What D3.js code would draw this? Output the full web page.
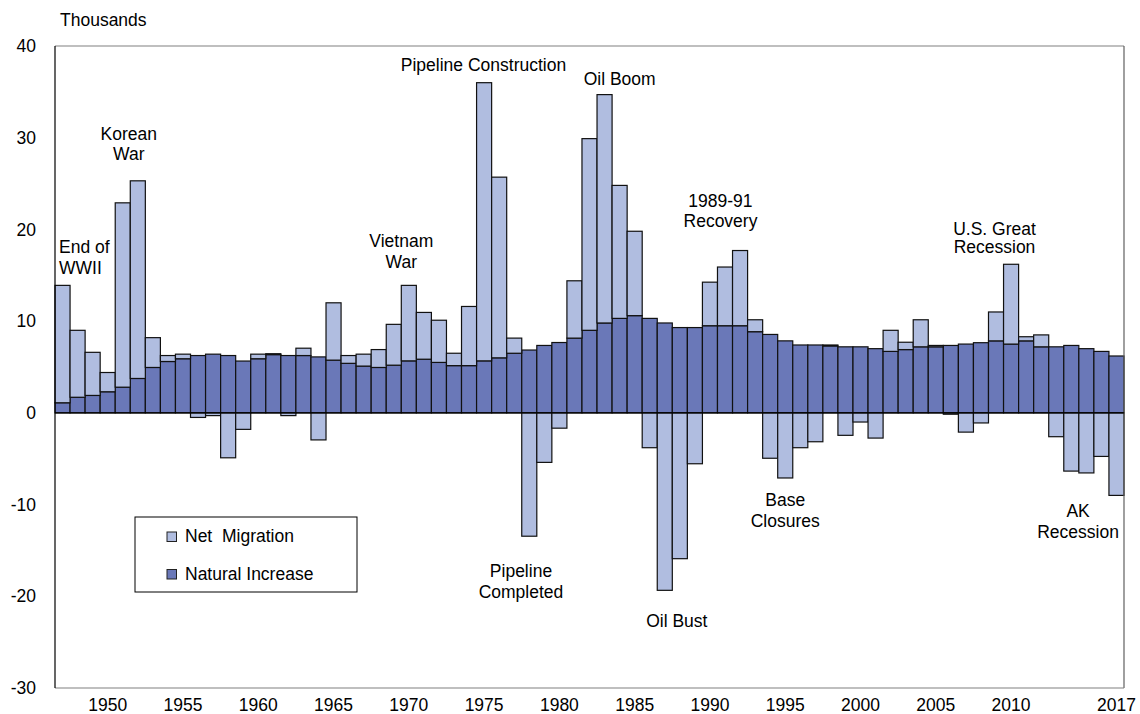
<!DOCTYPE html>
<html>
<head>
<meta charset="utf-8">
<script src="https://cdn.jsdelivr.net/npm/d3@7"></script>
<style>
  body { margin: 0; background: #fff; }
  svg text { font-family: "Liberation Sans", Arial, sans-serif; font-size: 17.5px; fill: #000; }
</style>
</head>
<body>
<div id="chart"></div>
<script>
/**** DATA *****/
const years = d3.range(1947, 2018);
// thousands of people, by year
const naturalIncrease = [
  1.1, 1.7, 1.9, 2.3, 2.8, 3.75, 4.95, 5.6, 5.9, 6.25,
  6.4, 6.25, 5.65, 5.9, 6.35, 6.25, 6.25, 6.1, 5.75, 5.4,
  5.1, 4.95, 5.2, 5.67, 5.85, 5.5, 5.15, 5.15, 5.67, 6.0,
  6.5, 6.85, 7.35, 7.67, 8.15, 9.0, 9.8, 10.3, 10.6, 10.3,
  9.8, 9.3, 9.3, 9.5, 9.5, 9.5, 8.85, 8.55, 7.85, 7.4,
  7.4, 7.3, 7.2, 7.2, 7.0, 6.7, 6.9, 7.2, 7.2, 7.35,
  7.5, 7.65, 7.85, 7.5, 7.85, 7.2, 7.2, 7.35, 7.0, 6.7,
  6.2
];
const netMigration = [
  12.8, 7.3, 4.7, 2.1, 20.1, 21.55, 3.25, 0.65, 0.5, -0.5,
  -0.3, -4.9, -1.8, 0.5, 0.1, -0.3, 0.8, -2.95, 6.25, 0.85,
  1.3, 1.95, 4.45, 8.23, 5.1, 4.6, 1.35, 6.45, 30.33, 19.7,
  1.65, -13.45, -5.4, -1.67, 6.25, 20.9, 24.9, 14.5, 9.2, -3.8,
  -19.35, -15.9, -5.55, 4.75, 6.4, 8.2, 1.3, -4.95, -7.1, -3.8,
  -3.15, 0.1, -2.45, -1.0, -2.75, 2.3, 0.8, 2.95, 0.15, -0.15,
  -2.1, -1.1, 3.15, 8.7, 0.45, 1.3, -2.6, -6.35, -6.55, -4.75,
  -9.0
];
const yTicks = [-30, -20, -10, 0, 10, 20, 30, 40];
const xTickYears = [1950, 1955, 1960, 1965, 1970, 1975, 1980, 1985, 1990, 1995, 2000, 2005, 2010, 2017];
const seriesNames = ["Net  Migration", "Natural Increase"];

// annotation anchors in chart units: year (centre) and value (first baseline)
const annotations = [
  { lines: ["End of", "WWII"], year: 1946.77, value: 17.4, anchor: "start" },
  { lines: ["Korean", "War"], year: 1951.4, value: 29.8 },
  { lines: ["Vietnam", "War"], year: 1969.5, value: 18.05 },
  { lines: ["Pipeline Construction"], year: 1974.96, value: 37.3 },
  { lines: ["Oil Boom"], year: 1984.0, value: 35.7 },
  { lines: ["1989-91", "Recovery"], year: 1990.7, value: 22.5 },
  { lines: ["U.S. Great", "Recession"], year: 2008.9, value: 19.4, lh: 18.5 },
  { lines: ["Pipeline", "Completed"], year: 1977.45, value: -17.9 },
  { lines: ["Oil Bust"], year: 1987.8, value: -23.3 },
  { lines: ["Base", "Closures"], year: 1995.0, value: -10.2 },
  { lines: ["AK", "Recession"], year: 2014.45, value: -11.4 }
];

/**** CHART *****/
const W = 1140, H = 714;
const margin = { top: 46, right: 16, bottom: 26, left: 55 };
const lightColor = "#b0bde0";
const darkColor = "#6a78b8";

const svg = d3.select('#chart').append('svg')
  .attr('width', W).attr('height', H);

const x = d3.scaleBand()
  .domain(years)
  .range([margin.left, W - margin.right])
  .padding(0);
const xYear = d3.scaleLinear()
  .domain([years[0] - 0.5, years[years.length - 1] + 0.5])
  .range([margin.left, W - margin.right]);
const y = d3.scaleLinear()
  .domain([-30, 40])
  .range([H - margin.bottom, margin.top]);

const rows = years.map((yr, i) => ({ year: yr, nat: naturalIncrease[i], mig: netMigration[i] }));

// natural increase (dark)
svg.append('g').selectAll('rect').data(rows).join('rect')
  .attr('x', d => x(d.year))
  .attr('width', x.bandwidth())
  .attr('y', d => y(Math.max(0, d.nat)))
  .attr('height', d => Math.abs(y(d.nat) - y(0)))
  .attr('fill', darkColor)
  .attr('stroke', '#111').attr('stroke-width', 1.2);

// net migration (light): stacked above natural increase if positive, below zero if negative
svg.append('g').selectAll('rect').data(rows).join('rect')
  .attr('x', d => x(d.year))
  .attr('width', x.bandwidth())
  .attr('y', d => d.mig >= 0 ? y(d.nat + d.mig) : y(0))
  .attr('height', d => d.mig >= 0 ? y(d.nat) - y(d.nat + d.mig) : y(d.mig) - y(0))
  .attr('fill', lightColor)
  .attr('stroke', '#111').attr('stroke-width', 1.2);

// frame
const x0 = margin.left, x1 = W - margin.right, y0 = margin.top, y1 = H - margin.bottom;
svg.append('line').attr('x1', x0).attr('x2', x1).attr('y1', y0).attr('y2', y0)
  .attr('stroke', '#808080').attr('stroke-width', 1.2);
svg.append('line').attr('x1', x1).attr('x2', x1).attr('y1', y0).attr('y2', y1)
  .attr('stroke', '#606060').attr('stroke-width', 1.2);
svg.append('line').attr('x1', x0).attr('x2', x1).attr('y1', y1).attr('y2', y1)
  .attr('stroke', '#808080').attr('stroke-width', 1.2);
svg.append('line').attr('x1', x0).attr('x2', x0).attr('y1', y0).attr('y2', y1)
  .attr('stroke', '#000').attr('stroke-width', 1.2);
// zero line
svg.append('line').attr('x1', x0).attr('x2', x1).attr('y1', y(0)).attr('y2', y(0))
  .attr('stroke', '#000').attr('stroke-width', 1.4);

// y axis
const yAxis = svg.append('g')
  .attr('transform', `translate(${margin.left},0)`)
  .call(d3.axisLeft(y).tickValues(yTicks).tickFormat(d => String(d)).tickSize(0).tickPadding(19));
yAxis.select('.domain').remove();
yAxis.selectAll('text').style('font-size', '17.5px').attr('fill', '#000');

// x axis
const xAxis = svg.append('g')
  .attr('transform', `translate(0,${H - margin.bottom})`)
  .call(d3.axisBottom(x).tickValues(xTickYears).tickSize(0).tickPadding(11));
xAxis.select('.domain').remove();
xAxis.selectAll('text').style('font-size', '17.5px').attr('fill', '#000');

// units label
svg.append('text').attr('x', 60).attr('y', 26).text('Thousands');

// annotations
annotations.forEach(a => {
  const lh = a.lh || 20.7;
  const t = svg.append('text')
    .attr('text-anchor', a.anchor || 'middle')
    .attr('x', xYear(a.year))
    .attr('y', y(a.value));
  a.lines.forEach((line, i) => {
    t.append('tspan')
      .attr('x', xYear(a.year))
      .attr('dy', i === 0 ? 0 : lh)
      .text(line);
  });
});

// legend
const legend = svg.append('g').attr('transform', 'translate(135,517)');
legend.append('rect').attr('width', 222).attr('height', 75)
  .attr('fill', '#fff').attr('stroke', '#000').attr('stroke-width', 1);
legend.selectAll('g.item').data(seriesNames).join('g')
  .attr('class', 'item')
  .attr('transform', (d, i) => `translate(32,${15 + i * 37.5})`)
  .each(function(d, i) {
    const g = d3.select(this);
    g.append('rect').attr('width', 9.5).attr('height', 9.5)
      .attr('fill', i === 0 ? lightColor : darkColor)
      .attr('stroke', '#222').attr('stroke-width', 1);
    g.append('text').attr('x', 18).attr('y', 10)
      .style('white-space', 'pre')
      .text(d);
  });
</script>
</body>
</html>
